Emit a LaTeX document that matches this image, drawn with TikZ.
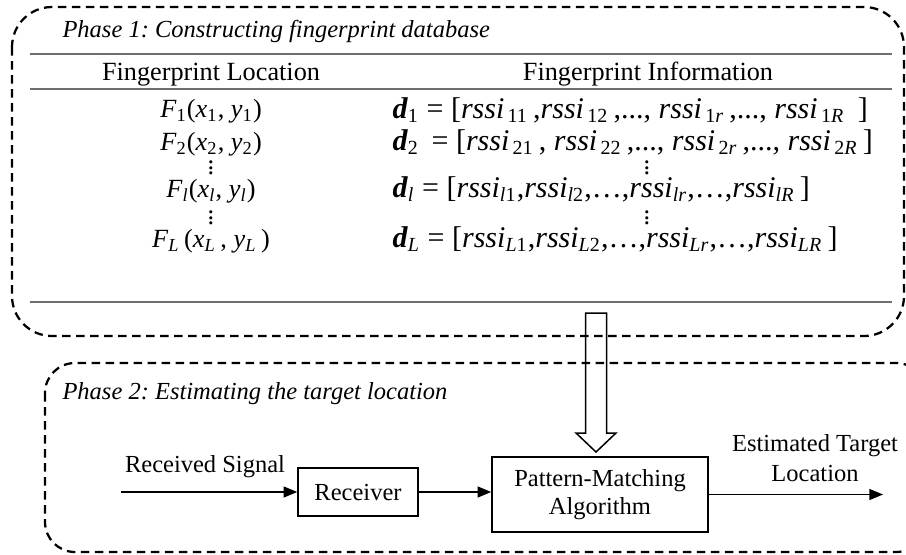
\documentclass[tikz,border=0pt]{standalone}
\usepackage{fontspec}
\setmainfont{Liberation Serif}
\usetikzlibrary{arrows.meta,positioning}
\definecolor{rulegray}{RGB}{110,110,110}
\frenchspacing
% subscripts: upright digits, italic letters
\newcommand{\rsub}[1]{\textsubscript{#1}}
\newcommand{\isub}[1]{\textsubscript{\itshape #1}}
\newcommand{\rssi}[1]{\textit{rssi}\textsubscript{#1}}
\newcommand{\dvec}[1]{\textbf{\textit{d}}\textsubscript{#1}}
% short vertical dots
\newcommand{\cdotsv}{\vbox{\baselineskip=2.3pt\lineskiplimit=-5pt\hbox{.}\hbox{.}\hbox{.}}}

\begin{document}
\begin{tikzpicture}[x=0.4pt,y=-0.4pt,
  phase/.style={draw,line width=0.9pt,dash pattern=on 3.4pt off 2.2pt},
  tabrule/.style={draw=rulegray,line width=0.7pt},
  title/.style={font=\fontsize{9.8}{12}\selectfont\itshape,anchor=base west,inner sep=0pt},
  cell/.style={font=\fontsize{10.5}{12}\selectfont,inner sep=0pt},
  vec/.style={font=\fontsize{12}{14}\selectfont,inner sep=0pt,anchor=base west},
  block/.style={draw,line width=0.6pt,align=center,inner sep=0pt,font=\fontsize{9.8}{11.4}\selectfont},
  sig/.style={line width=0.6pt,-{Triangle[length=5.5pt,width=4.4pt]}},
  lbl/.style={font=\fontsize{9.8}{12}\selectfont,align=center,inner sep=0pt}]
\useasboundingbox (0,0) rectangle (906,554);
% the two phase frames
\draw[phase,rounded corners=16pt] (12,7) rectangle (904,336);
\draw[phase,rounded corners=12pt] (45,363) rectangle (926,552);

% Phase 1: the fingerprint table
\node[title] (ph1) at (62,37) {Phase 1: Constructing fingerprint database};
\draw[tabrule] (30,54) -- (892,54);
\draw[tabrule] (30,89) -- (892,89);
\draw[tabrule] (30,302) -- (892,302);
\node[cell,anchor=base] (hloc) at (211,80) {Fingerprint Location};
\node[cell,anchor=base] (hinf) at (648,80) {Fingerprint Information};
% locations
\node[cell,anchor=base] (loc1) at (211,117) {\textit{F}\rsub{1}(\textit{x}\rsub{1}, \textit{y}\rsub{1})};
\node[cell,anchor=base] (loc2) at (211,150) {\textit{F}\rsub{2}(\textit{x}\rsub{2}, \textit{y}\rsub{2})};
\node[cell] (locd1) at (211,168) {\cdotsv};
\node[cell,anchor=base] (locl) at (211,197) {\textit{F}\isub{l}(\textit{x}\isub{l}, \textit{y}\isub{l})};
\node[cell] (locd2) at (211,218) {\cdotsv};
\node[cell,anchor=base] (locL) at (211,247) {\textit{F}\isub{L}\,(\textit{x}\isub{L}\,, \textit{y}\isub{L}\,)};
% fingerprint vectors
\node[vec] (inf1) at (392,118) {\dvec{1} = [\rssi{\,11}\,,\rssi{\,12}\,,..., \rssi{\,1\itshape r}\,,..., \rssi{\,1\itshape R}\,\;]};
\node[vec] (inf2) at (392,150) {\dvec{2} \,= [\rssi{\,21}\,, \rssi{\,22}\,,..., \rssi{\,2\itshape r}\,,..., \rssi{\,2\itshape R}\,]};
\node[cell] (infd1) at (647,168) {\cdotsv};
\node[vec] (infl) at (392,197) {\dvec{\itshape l} = [\rssi{\itshape l\upshape 1},\rssi{\itshape l\upshape 2},\dots,\rssi{\itshape lr},\dots,\rssi{\itshape lR}\,]};
\node[cell] (infd2) at (647,218) {\cdotsv};
\node[vec] (infL) at (392,247) {\dvec{\itshape L} = [\rssi{\itshape L\upshape 1},\rssi{\itshape L\upshape 2},\dots,\rssi{\itshape Lr},\dots,\rssi{\itshape LR}\,]};

% Phase 2: matching
\node[title] (ph2) at (62,399) {Phase 2: Estimating the target location};
\node[block,minimum width=48pt,minimum height=19.2pt] (rcv) at (358,492) {Receiver};
\node[block,minimum width=86.4pt,minimum height=30pt] (pm) at (600,494.5) {Pattern-Matching\\Algorithm};
\coordinate (sigin) at (121,492);
\coordinate (est) at (883,494.5);
\coordinate (dbout) at (596,313);
\node[lbl] (siglbl) at (205,467) {Received Signal};
\node[lbl] (estlbl) at (815,458) {Estimated Target\\Location};
\draw[sig] (sigin) -- (rcv);
\draw[sig] (rcv.east) -- (rcv.east -| pm.west);
\draw[sig] (pm.east) -- (est);
% hollow arrow from the database down to the matcher
\draw[line width=0.6pt] (dbout) ++(-10.5,0) -- ++(0,120) -- ++(-9.5,0) -- ++(20,19)
  -- ++(20,-19) -- ++(-9.5,0) -- ++(0,-120) -- cycle;
\end{tikzpicture}
\end{document}
